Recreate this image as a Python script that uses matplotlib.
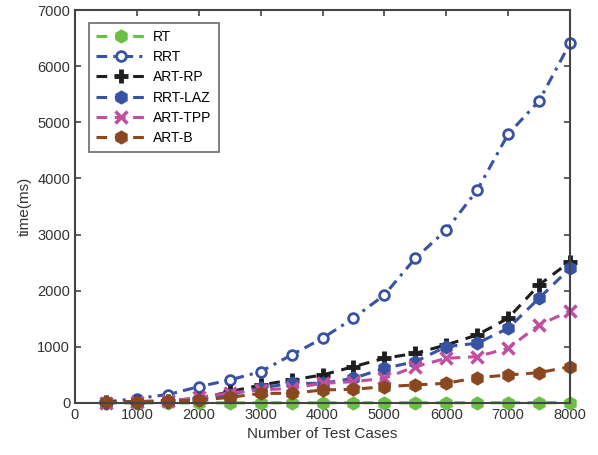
import matplotlib
matplotlib.use("Agg")
import matplotlib.pyplot as plt

plt.rcParams["font.family"] = ["Liberation Sans", "DejaVu Sans"]

test_cases = [500, 1000, 1500, 2000, 2500, 3000, 3500, 4000,
              4500, 5000, 5500, 6000, 6500, 7000, 7500, 8000]

rt = [1, 1, 2, 2, 2, 3, 3, 3, 4, 4, 4, 5, 5, 5, 6, 6]
rrt = [20, 80, 150, 290, 410, 558, 856, 1153, 1510, 1925, 2579, 3080, 3790, 4790, 5380, 6410]
art_rp = [10, 25, 40, 80, 200, 320, 410, 499, 647, 796, 885, 1034, 1212, 1510, 2103, 2519]
rrt_laz = [8, 20, 35, 70, 150, 267, 350, 350, 440, 618, 737, 1004, 1064, 1331, 1866, 2401]
art_tpp = [5, 15, 30, 100, 180, 232, 262, 350, 380, 440, 647, 796, 826, 975, 1390, 1640]
art_b = [10, 20, 30, 50, 100, 172, 172, 232, 244, 291, 321, 351, 451, 499, 540, 647]

series = [
    ("RT", rt, "#6cbf45", "--", "h"),
    ("RRT", rrt, "#3953a4", "-.", "o"),
    ("ART-RP", art_rp, "#1e1e1e", "--", "+"),
    ("RRT-LAZ", rrt_laz, "#3953a4", "--", "h"),
    ("ART-TPP", art_tpp, "#c04fa0", "--", "x"),
    ("ART-B", art_b, "#8b4720", "--", "h"),
]

fig = plt.figure(figsize=(5.98, 4.55), dpi=100)
ax = fig.add_axes([0.1254, 0.1143, 0.8278, 0.8637])

for label, vals, color, ls, mk in series:
    kw = dict(color=color, linestyle=ls, linewidth=2.2, marker=mk, label=label,
              dashes=(3.5, 2.5) if ls == "--" else (3.5, 2, 1, 2), clip_on=False)
    if mk == "o":
        kw.update(markersize=7, markerfacecolor="white", markeredgewidth=2)
    elif mk == "h":
        kw.update(markersize=8, markeredgewidth=2, markerfacecolor=color)
    elif mk == "+":
        kw.update(markersize=10, markeredgewidth=3.5)
    else:
        kw.update(markersize=8, markeredgewidth=2.5)
    ax.plot(test_cases, vals, **kw)

ax.set_xlim(0, 8000)
ax.set_ylim(0, 7000)
ax.set_xticks(range(0, 8001, 1000))
ax.set_yticks(range(0, 7001, 1000))
ax.set_xlabel("Number of Test Cases", fontsize=11, color="#333333")
ax.set_ylabel("time(ms)", fontsize=11, color="#333333")
ax.tick_params(direction="in", top=True, right=True, length=4, width=1.2,
               labelsize=10.5, colors="#444444", labelcolor="#333333")
for sp in ax.spines.values():
    sp.set_color("#444444")
    sp.set_linewidth(1.5)

leg = ax.legend(loc="upper left", bbox_to_anchor=(0.015, 0.985), fontsize=10,
                fancybox=False, edgecolor="#444444", handlelength=3.6,
                borderpad=0.5, labelspacing=0.45, handletextpad=0.5)
leg.get_frame().set_linewidth(1.2)

fig.savefig("out.png", dpi=100)
